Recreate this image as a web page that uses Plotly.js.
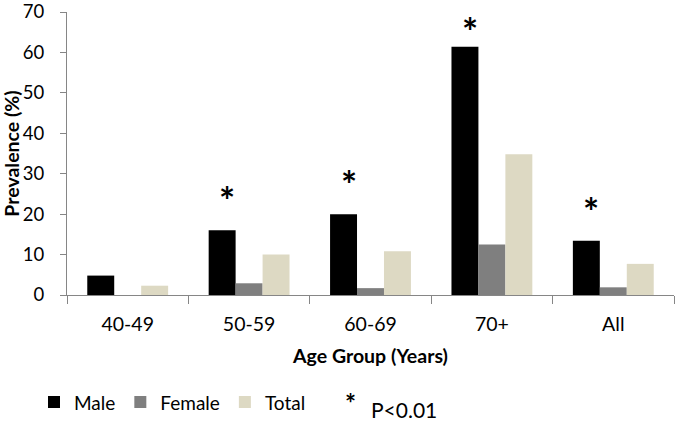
<!DOCTYPE html>
<html>
<head>
<meta charset="utf-8">
<script src="https://cdn.plot.ly/plotly-3.0.1.min.js"></script>
<style>html,body{margin:0;padding:0;background:#fff;}#chart{width:675px;height:422px;}</style>
</head>
<body>
<div id="chart"></div>
<script>
const categories = ["40-49", "50-59", "60-69", "70+", "All"];
const maleValues = [4.8, 16.0, 20.0, 61.4, 13.4];
const femaleValues = [0, 2.9, 1.7, 12.5, 1.9];
const totalValues = [2.3, 10.0, 10.8, 34.8, 7.7];
const significant = ["50-59", "60-69", "70+", "All"];
const yTicks = [0, 10, 20, 30, 40, 50, 60, 70];

const FONT = "Lato, 'Open Sans', sans-serif";
const axisGray = "#868686";
const W = 675, H = 422, M = {l: 67, r: 1, t: 12, b: 125};
const plotH = H - M.t - M.b, plotW = W - M.l - M.r;
const py = function (pix) { return (H - M.b - pix) / plotH; };
const px = function (pix) { return (pix - M.l) / plotW; };

const traces = [
  {type: "bar", name: "Male", x: categories, y: maleValues, marker: {color: "#000000"}},
  {type: "bar", name: "Female", x: categories, y: femaleValues, marker: {color: "#7f7f7f"}},
  {type: "bar", name: "Total", x: categories, y: totalValues, marker: {color: "#ddd9c3"}}
];

const starAnnotations = significant.map(function (c) {
  const v = maleValues[categories.indexOf(c)];
  return {
    x: c, xref: "x", y: Math.min(v + 7.4, 65.4), yref: "y",
    text: "<b>*</b>", showarrow: false, xshift: -22,
    yanchor: "middle", font: {family: FONT, size: 38, color: "#000"}
  };
});

const layout = {
  width: W, height: H,
  margin: M,
  paper_bgcolor: "#fff", plot_bgcolor: "#fff",
  font: {family: FONT, color: "#000"},
  barmode: "group", bargap: 0.334, bargroupgap: 0,
  showlegend: true,
  legend: {orientation: "h", x: px(34), xanchor: "left", y: py(405), yanchor: "middle",
           font: {family: FONT, size: 19, color: "#000"}, bgcolor: "rgba(0,0,0,0)"},
  xaxis: {
    type: "category", showline: true, linecolor: axisGray, linewidth: 1,
    ticks: "outside", tickson: "boundaries", ticklen: 8, tickcolor: axisGray,
    tickfont: {family: FONT, size: 19.5, color: "#000"}, ticklabelstandoff: 12,
    showgrid: false, zeroline: false,
    title: {text: "<b>Age Group (Years)</b>", font: {family: FONT, size: 19.5, color: "#000"}, standoff: 14}
  },
  yaxis: {
    range: [0, 70], tickvals: yTicks, showline: true, linecolor: axisGray, linewidth: 1,
    ticks: "outside", ticklen: 6, tickcolor: axisGray, ticklabeloverflow: "allow",
    tickfont: {family: FONT, size: 18.5, color: "#000"}, ticklabelstandoff: 12,
    showgrid: false, zeroline: false,
    title: {text: "<b>Prevalence (%)</b>", font: {family: FONT, size: 19.5, color: "#000"}, standoff: 10}
  },
  annotations: starAnnotations.concat([
    {xref: "paper", yref: "paper", x: px(350), y: py(406),
     text: "<b>*</b>", showarrow: false, xanchor: "center", yanchor: "middle",
     font: {family: FONT, size: 26, color: "#000"}},
    {xref: "paper", yref: "paper", x: px(369), y: py(412),
     text: "P<0.01", showarrow: false, xanchor: "left", yanchor: "middle",
     font: {family: FONT, size: 21, color: "#000"}}
  ])
};

Plotly.newPlot("chart", traces, layout, {displayModeBar: false, staticPlot: true});
</script>
</body>
</html>
